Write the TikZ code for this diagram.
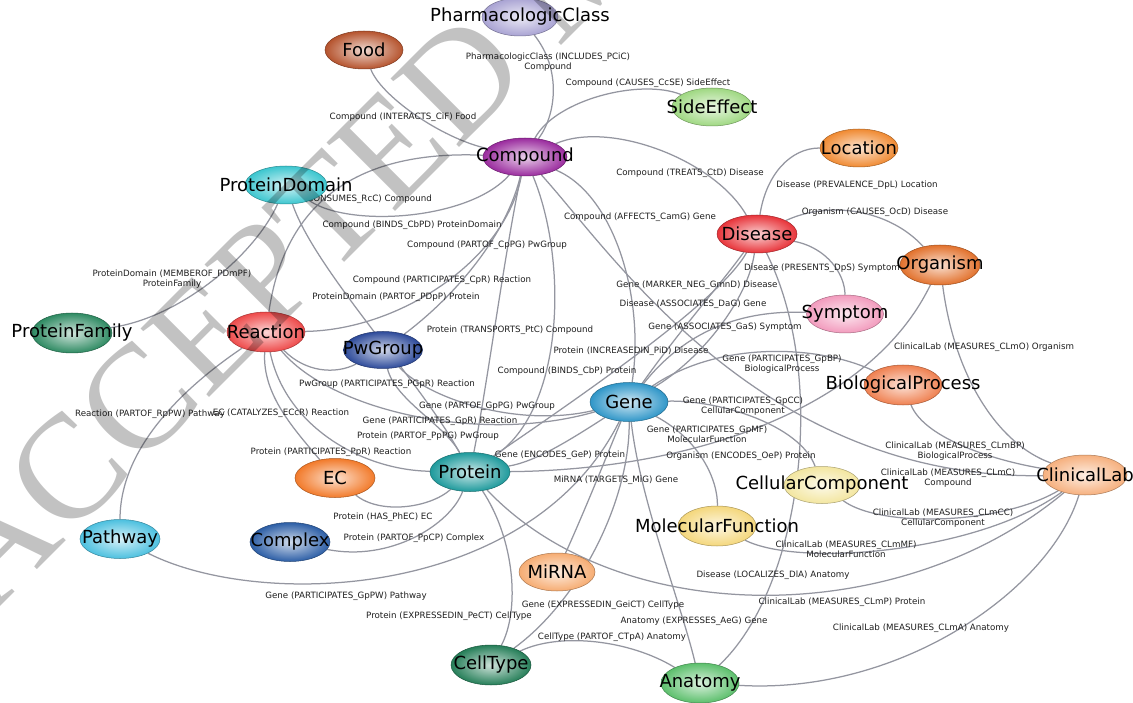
\documentclass[tikz,border=0pt]{standalone}
\usepackage{fontspec}
\setmainfont{DejaVu Sans}
\newfontfamily\wmfont{Liberation Serif}
\usetikzlibrary{shapes.geometric}
\pgfdeclarelayer{bg}
\pgfdeclarelayer{edges}
\pgfdeclarelayer{fg}
\pgfsetlayers{bg,edges,main,fg}
\definecolor{edgegray}{HTML}{9496A0}
\definecolor{cPC}{HTML}{A9A3D3}
\definecolor{cFood}{HTML}{B5532D}
\definecolor{cSE}{HTML}{9FD882}
\definecolor{cCmp}{HTML}{9A2B9E}
\definecolor{cLoc}{HTML}{F08A32}
\definecolor{cPD}{HTML}{3CC6CF}
\definecolor{cDis}{HTML}{E8343A}
\definecolor{cOrg}{HTML}{E2712C}
\definecolor{cPF}{HTML}{2E8A62}
\definecolor{cRx}{HTML}{EE4A4A}
\definecolor{cPwG}{HTML}{2D4A9A}
\definecolor{cSym}{HTML}{F29BBD}
\definecolor{cBP}{HTML}{EF8050}
\definecolor{cGene}{HTML}{2F96C8}
\definecolor{cCL}{HTML}{F6B07E}
\definecolor{cEC}{HTML}{F27A2A}
\definecolor{cProt}{HTML}{1E9A9C}
\definecolor{cCC}{HTML}{F3E6A0}
\definecolor{cMF}{HTML}{F4D77C}
\definecolor{cPW}{HTML}{4CC0DF}
\definecolor{cCx}{HTML}{2C5EA6}
\definecolor{cMi}{HTML}{F6AC72}
\definecolor{cCT}{HTML}{257E58}
\definecolor{cAna}{HTML}{5CBF6C}
\newcommand{\nlabfont}{\fontsize{18}{18}\selectfont}
\newcommand{\elabfont}{\fontsize{8.7}{10}\selectfont}
\begin{document}
\begin{tikzpicture}[x=1pt,y=-1pt,
  ent/.style={ellipse, inner sep=0pt, minimum width=80pt, minimum height=38pt, line width=0.5pt, font=\nlabfont, text=black},
  col/.style={inner color=#1!22!white, outer color=#1, draw=#1!70!black},
  rel/.style={draw=edgegray, line width=1.25pt},
  elabel/.style={font=\elabfont, text=black!88, inner sep=0pt, align=center},
  wm/.style={font=\wmfont\fontsize{148}{148}\selectfont, text=black, text opacity=0.24, inner sep=0pt}]
\useasboundingbox (0,0) rectangle (1133,703);
\clip (0,0) rectangle (1133,703);
\begin{pgfonlayer}{bg}
\fill[white] (0,0) rectangle (1133,703);
\end{pgfonlayer}

% ---------- entity nodes ----------
\node[ent, col=cPC, minimum width=76pt] (pc) at (520,17) {\makebox[0pt]{PharmacologicClass}};
\node[ent, col=cFood, minimum width=78pt] (food) at (364,50) {\makebox[0pt]{Food}};
\node[ent, col=cSE] (se) at (712,107) {\makebox[0pt]{SideEffect}};
\node[ent, col=cCmp, minimum width=84pt] (cmp) at (525,157) {\makebox[0pt]{Compound}};
\node[ent, col=cLoc, minimum width=78pt] (loc) at (859,148) {\makebox[0pt]{Location}};
\node[ent, col=cPD, minimum width=82pt] (pd) at (286,185) {\makebox[0pt]{ProteinDomain}};
\node[ent, col=cDis] (dis) at (757,234) {\makebox[0pt]{Disease}};
\node[ent, col=cOrg, minimum height=40pt] (org) at (940,265) {\makebox[0pt]{Organism}};
\node[ent, col=cPF, minimum height=40pt] (pf) at (72,333) {\makebox[0pt]{ProteinFamily}};
\node[ent, col=cRx, minimum width=78pt, minimum height=40pt] (rx) at (266,332) {\makebox[0pt]{Reaction}};
\node[ent, col=cPwG, minimum width=79pt, minimum height=37pt] (pwg) at (383,350) {\makebox[0pt]{PwGroup}};
\node[ent, col=cSym, minimum width=77pt] (sym) at (845,314) {\makebox[0pt]{Symptom}};
\node[ent, col=cBP, minimum width=78pt, minimum height=40pt] (bp) at (903,385) {\makebox[0pt]{BiologicalProcess}};
\node[ent, col=cGene, minimum width=78pt, minimum height=39pt] (gene) at (629,402) {\makebox[0pt]{Gene}};
\node[ent, col=cCL, minimum width=84pt, minimum height=40pt] (cl) at (1085,475) {\makebox[0pt]{ClinicalLab}};
\node[ent, col=cEC, minimum height=39pt] (ec) at (335,478) {\makebox[0pt]{EC}};
\node[ent, col=cProt, minimum height=39pt] (prot) at (470,472) {\makebox[0pt]{Protein}};
\node[ent, col=cCC, minimum width=76pt, minimum height=37pt] (cc) at (822,485) {\makebox[0pt]{CellularComponent}};
\node[ent, col=cMF, minimum width=78pt, minimum height=40pt] (mf) at (717,526) {\makebox[0pt]{MolecularFunction}};
\node[ent, col=cPW, minimum height=39pt] (pw) at (120,539) {\makebox[0pt]{Pathway}};
\node[ent, col=cCx, minimum height=39pt] (cx) at (290,542) {\makebox[0pt]{Complex}};
\node[ent, col=cMi, minimum width=76pt] (mi) at (557,572) {\makebox[0pt]{MiRNA}};
\node[ent, col=cCT, minimum height=40pt] (ct) at (491,665) {\makebox[0pt]{CellType}};
\node[ent, col=cAna, minimum width=78pt, minimum height=40pt] (ana) at (700,683) {\makebox[0pt]{Anatomy}};

% ---------- connectors ----------
\begin{pgfonlayer}{edges}
\draw[rel] (food) .. controls (380,95) and (440,138) .. (cmp);
\draw[rel] (pc) .. controls (562,70) and (556,115) .. (cmp);
\draw[rel] (cmp) .. controls (555,100) and (640,78) .. (se);
\draw[rel] (cmp) .. controls (610,120) and (715,160) .. (dis);
\draw[rel] (dis) .. controls (766,175) and (790,148) .. (loc);
\draw[rel] (rx) .. controls (285,200) and (360,150) .. (cmp);
\draw[rel] (pd) .. controls (350,228) and (470,220) .. (cmp);
\draw[rel] (cmp) .. controls (505,240) and (450,300) .. (pwg);
\draw[rel] (cmp) .. controls (505,260) and (400,330) .. (rx);
\draw[rel] (pd) .. controls (315,270) and (420,380) .. (prot);
\draw[rel] (prot) .. controls (488,380) and (505,250) .. (cmp);
\draw[rel] (cmp) .. controls (568,260) and (565,410) .. (prot);
\draw[rel] (cmp) .. controls (615,195) and (645,300) .. (gene);
\draw[rel] (cmp) .. controls (610,250) and (760,480) .. (cl);
\draw[rel] (dis) .. controls (830,200) and (890,210) .. (org);
\draw[rel] (dis) .. controls (828,248) and (845,275) .. (sym);
\draw[rel] (gene) .. controls (680,330) and (720,285) .. (dis);
\draw[rel] (dis) .. controls (748,300) and (700,360) .. (gene);
\draw[rel] (prot) .. controls (590,390) and (720,300) .. (dis);
\draw[rel] (dis) .. controls (830,380) and (800,590) .. (ana);
\draw[rel] (gene) .. controls (690,325) and (750,310) .. (sym);
\draw[rel] (org) .. controls (870,410) and (690,470) .. (prot);
\draw[rel] (org) .. controls (955,380) and (1000,445) .. (cl);
\draw[rel] (gene) .. controls (720,340) and (820,345) .. (bp);
\draw[rel] (bp) .. controls (925,440) and (1000,462) .. (cl);
\draw[rel] (gene) .. controls (720,400) and (800,425) .. (cc);
\draw[rel] (gene) .. controls (700,440) and (718,480) .. (mf);
\draw[rel] (gene) .. controls (570,440) and (535,462) .. (prot);
\draw[rel] (gene) .. controls (520,428) and (430,400) .. (pwg);
\draw[rel] (gene) .. controls (480,445) and (330,410) .. (rx);
\draw[rel] (prot) .. controls (445,425) and (395,400) .. (pwg);
\draw[rel] (pwg) .. controls (335,375) and (305,372) .. (rx);
\draw[rel] (pf) .. controls (180,318) and (255,255) .. (pd);
\draw[rel] (rx) .. controls (180,390) and (120,450) .. (pw);
\draw[rel] (ec) .. controls (295,430) and (262,395) .. (rx);
\draw[rel] (prot) .. controls (360,470) and (285,425) .. (rx);
\draw[rel] (ec) .. controls (380,515) and (430,508) .. (prot);
\draw[rel] (cx) .. controls (390,562) and (450,525) .. (prot);
\draw[rel] (pw) .. controls (260,610) and (530,600) .. (gene);
\draw[rel] (prot) .. controls (515,540) and (520,610) .. (ct);
\draw[rel] (gene) .. controls (630,500) and (580,600) .. (ct);
\draw[rel] (mi) .. controls (585,510) and (605,460) .. (gene);
\draw[rel] (ct) .. controls (560,632) and (630,640) .. (ana);
\draw[rel] (ana) .. controls (900,695) and (1050,590) .. (cl);
\draw[rel] (prot) .. controls (620,630) and (900,630) .. (cl);
\draw[rel] (mf) .. controls (800,568) and (980,552) .. (cl);
\draw[rel] (cc) .. controls (880,528) and (1000,525) .. (cl);
\draw[rel] (gene) .. controls (640,500) and (680,600) .. (ana);

% ---------- connector labels ----------
\node[elabel] (l1) at (403,117) {Compound (INTERACTS\_CiF) Food};
\node[elabel] (l2) at (548,62) {PharmacologicClass (INCLUDES\_PCiC)\\Compound};
\node[elabel] (l3) at (648,83) {Compound (CAUSES\_CcSE) SideEffect};
\node[elabel] (l4) at (690,173) {Compound (TREATS\_CtD) Disease};
\node[elabel] (l5) at (857,185) {Disease (PREVALENCE\_DpL) Location};
\node[elabel, anchor=east] (l6) at (432,199) {Reaction (CONSUMES\_RcC) Compound};
\node[elabel] (l7) at (640,217) {Compound (AFFECTS\_CamG) Gene};
\node[elabel] (l8) at (875,212) {Organism (CAUSES\_OcD) Disease};
\node[elabel] (l9) at (412,225) {Compound (BINDS\_CbPD) ProteinDomain};
\node[elabel] (l10) at (487,245) {Compound (PARTOF\_CpPG) PwGroup};
\node[elabel] (l11) at (172,279) {ProteinDomain (MEMBEROF\_PDmPF)\\ProteinFamily};
\node[elabel] (l12) at (442,280) {Compound (PARTICIPATES\_CpR) Reaction};
\node[elabel] (l13) at (396,297) {ProteinDomain (PARTOF\_PDpP) Protein};
\node[elabel] (l14) at (822,268) {Disease (PRESENTS\_DpS) Symptom};
\node[elabel] (l15) at (697,285) {Gene (MARKER\_NEG\_GmnD) Disease};
\node[elabel] (l16) at (693,304) {Disease (ASSOCIATES\_DaG) Gene};
\node[elabel] (l17) at (725,327) {Gene (ASSOCIATES\_GaS) Symptom};
\node[elabel] (l18) at (510,330) {Protein (TRANSPORTS\_PtC) Compound};
\node[elabel] (l19) at (631,351) {Protein (INCREASEDIN\_PiD) Disease};
\node[elabel] (l20) at (984,347) {ClinicalLab (MEASURES\_CLmO) Organism};
\node[elabel] (l21) at (782,364) {Gene (PARTICIPATES\_GpBP)\\BiologicalProcess};
\node[elabel] (l22) at (567,371) {Compound (BINDS\_CbP) Protein};
\node[elabel] (l23) at (387,384) {PwGroup (PARTICIPATES\_PGpR) Reaction};
\node[elabel] (l24) at (743,406) {Gene (PARTICIPATES\_GpCC)\\CellularComponent};
\node[elabel] (l25) at (487,406) {Gene (PARTOF\_GpPG) PwGroup};
\node[elabel] (l26) at (150,414) {Reaction (PARTOF\_RpPW) Pathway};
\node[elabel] (l27) at (281,413) {EC (CATALYZES\_ECcR) Reaction};
\node[elabel] (l28) at (440,421) {Gene (PARTICIPATES\_GpR) Reaction};
\node[elabel] (l29) at (707,434) {Gene (PARTICIPATES\_GpMF)\\MolecularFunction};
\node[elabel] (l30) at (428,436) {Protein (PARTOF\_PpPG) PwGroup};
\node[elabel] (l31) at (955,451) {ClinicalLab (MEASURES\_CLmBP)\\BiologicalProcess};
\node[elabel] (l32) at (331,452) {Protein (PARTICIPATES\_PpR) Reaction};
\node[elabel] (l33) at (560,455) {Gene (ENCODES\_GeP) Protein};
\node[elabel] (l34) at (741,456) {Organism (ENCODES\_OeP) Protein};
\node[elabel] (l35) at (948,478) {ClinicalLab (MEASURES\_CLmC)\\Compound};
\node[elabel] (l36) at (616,480) {MiRNA (TARGETS\_MiG) Gene};
\node[elabel] (l37) at (383,517) {Protein (HAS\_PhEC) EC};
\node[elabel] (l38) at (943,518) {ClinicalLab (MEASURES\_CLmCC)\\CellularComponent};
\node[elabel] (l39) at (414,538) {Protein (PARTOF\_PpCP) Complex};
\node[elabel] (l40) at (846,549) {ClinicalLab (MEASURES\_CLmMF)\\MolecularFunction};
\node[elabel] (l41) at (773,575) {Disease (LOCALIZES\_DlA) Anatomy};
\node[elabel] (l42) at (346,596) {Gene (PARTICIPATES\_GpPW) Pathway};
\node[elabel] (l43) at (842,602) {ClinicalLab (MEASURES\_CLmP) Protein};
\node[elabel] (l44) at (603,605) {Gene (EXPRESSEDIN\_GeiCT) CellType};
\node[elabel] (l45) at (449,616) {Protein (EXPRESSEDIN\_PeCT) CellType};
\node[elabel] (l46) at (694,621) {Anatomy (EXPRESSES\_AeG) Gene};
\node[elabel] (l47) at (921,628) {ClinicalLab (MEASURES\_CLmA) Anatomy};
\node[elabel] (l48) at (612,637) {CellType (PARTOF\_CTpA) Anatomy};
\end{pgfonlayer}

% ---------- watermark ----------
\begin{pgfonlayer}{fg}
\node[wm, rotate=45, anchor=base west] (wmark) at (-9,616) {ACCEPTED MANUSCRIPT};
\end{pgfonlayer}
\end{tikzpicture}
\end{document}
